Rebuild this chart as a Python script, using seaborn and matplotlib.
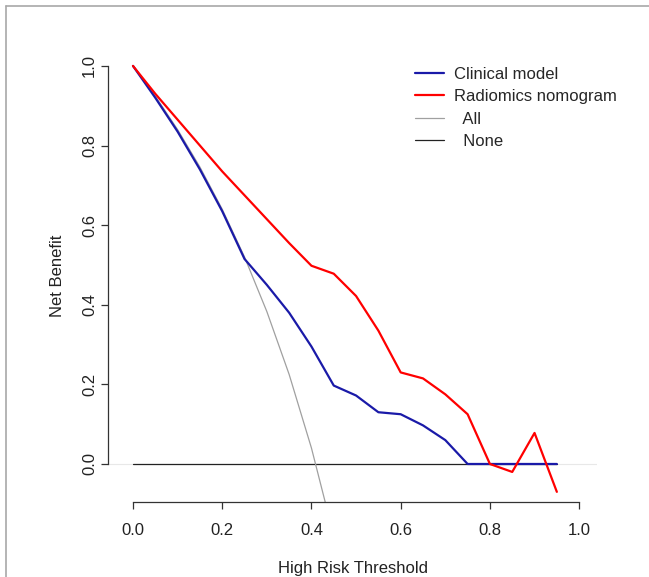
import numpy as np
import pandas as pd
import matplotlib
matplotlib.use("Agg")
import matplotlib.pyplot as plt
import seaborn as sns
from matplotlib.lines import Line2D

# decision curve values
thresholds = [0.0, 0.05, 0.1, 0.15, 0.2, 0.25, 0.3, 0.35, 0.4, 0.45,
              0.5, 0.55, 0.6, 0.65, 0.7, 0.75, 0.8, 0.85, 0.9, 0.95]
clinical = [1.0, 0.92, 0.835, 0.74, 0.635, 0.515, 0.45, 0.38, 0.295, 0.197,
            0.172, 0.13, 0.125, 0.097, 0.06, 0.0, 0.0, 0.0, 0.0, 0.0]
radiomics = [1.0, 0.93, 0.865, 0.80, 0.735, 0.675, 0.615, 0.555, 0.498, 0.478,
             0.422, 0.335, 0.23, 0.215, 0.175, 0.125, 0.0, -0.02, 0.078, -0.07]
all_thr = [0.0, 0.05, 0.1, 0.15, 0.2, 0.25, 0.3, 0.35, 0.4, 0.45]
all_nb = [1.0, 0.924, 0.84, 0.746, 0.64, 0.52, 0.383, 0.225, 0.04, -0.18]
none_thr = [0.0, 0.95]
none_nb = [0.0, 0.0]

labels = ["Clinical model", "Radiomics nomogram", "  All", "  None"]
colors = ["#1a1aa8", "#ff0000", "#a0a0a0", "#222222"]

sns.set_style("ticks")
plt.rcParams["font.family"] = ["Liberation Sans", "DejaVu Sans"]

fig = plt.figure(figsize=(6.49, 5.77), dpi=100)
ax = fig.add_axes([108 / 649, 75 / 577, 489 / 649, 452 / 577])

ax.axhline(0, color="#e8e8e8", lw=0.8, zorder=0)
sns.lineplot(x=none_thr, y=none_nb, ax=ax, color=colors[3], lw=0.9)
sns.lineplot(x=all_thr, y=all_nb, ax=ax, color=colors[2], lw=0.9)
sns.lineplot(x=thresholds, y=clinical, ax=ax, color=colors[0], lw=1.6)
sns.lineplot(x=thresholds, y=radiomics, ax=ax, color=colors[1], lw=1.6)

ax.set_xlim(-0.056, 1.04)
ax.set_ylim(-0.0955, 1.04)
ax.set_xticks([0, 0.2, 0.4, 0.6, 0.8, 1.0])
ax.set_yticks([0, 0.2, 0.4, 0.6, 0.8, 1.0])
ax.set_xticklabels(["0.0", "0.2", "0.4", "0.6", "0.8", "1.0"])
ax.set_yticklabels(["0.0", "0.2", "0.4", "0.6", "0.8", "1.0"], rotation=90, va="center")

for s in ["top", "right"]:
    ax.spines[s].set_visible(False)
ax.spines["left"].set_bounds(0, 1)
ax.spines["bottom"].set_bounds(0, 1)
for s in ["left", "bottom"]:
    ax.spines[s].set_color("#333333")
    ax.spines[s].set_linewidth(0.9)
ax.tick_params(direction="out", length=5, width=0.9, color="#333333",
               labelsize=12, labelcolor="#222222", left=True, bottom=True)
ax.tick_params(axis="x", pad=10)
ax.tick_params(axis="y", pad=3)

ax.set_xlabel("High Risk Threshold", fontsize=12, color="#222222", labelpad=17)
ax.set_ylabel("Net Benefit", fontsize=12, color="#222222", labelpad=12)

handles = [Line2D([0], [0], color=c, lw=w) for c, w in zip(colors, [1.6, 1.6, 0.9, 0.9])]
ax.legend(handles, labels, frameon=False, loc="upper left",
          bbox_to_anchor=(0.598, 0.996), fontsize=12, handlelength=1.7,
          handletextpad=0.6, labelspacing=0.45)

# outer frame on the left and top
fig.add_artist(Line2D([6 / 649, 6 / 649], [0, 1 - 6 / 577], color="#a8a8a8", lw=1.2))
fig.add_artist(Line2D([6 / 649, 1], [1 - 6 / 577, 1 - 6 / 577], color="#a8a8a8", lw=1.2))

fig.savefig("out.png", dpi=100)
